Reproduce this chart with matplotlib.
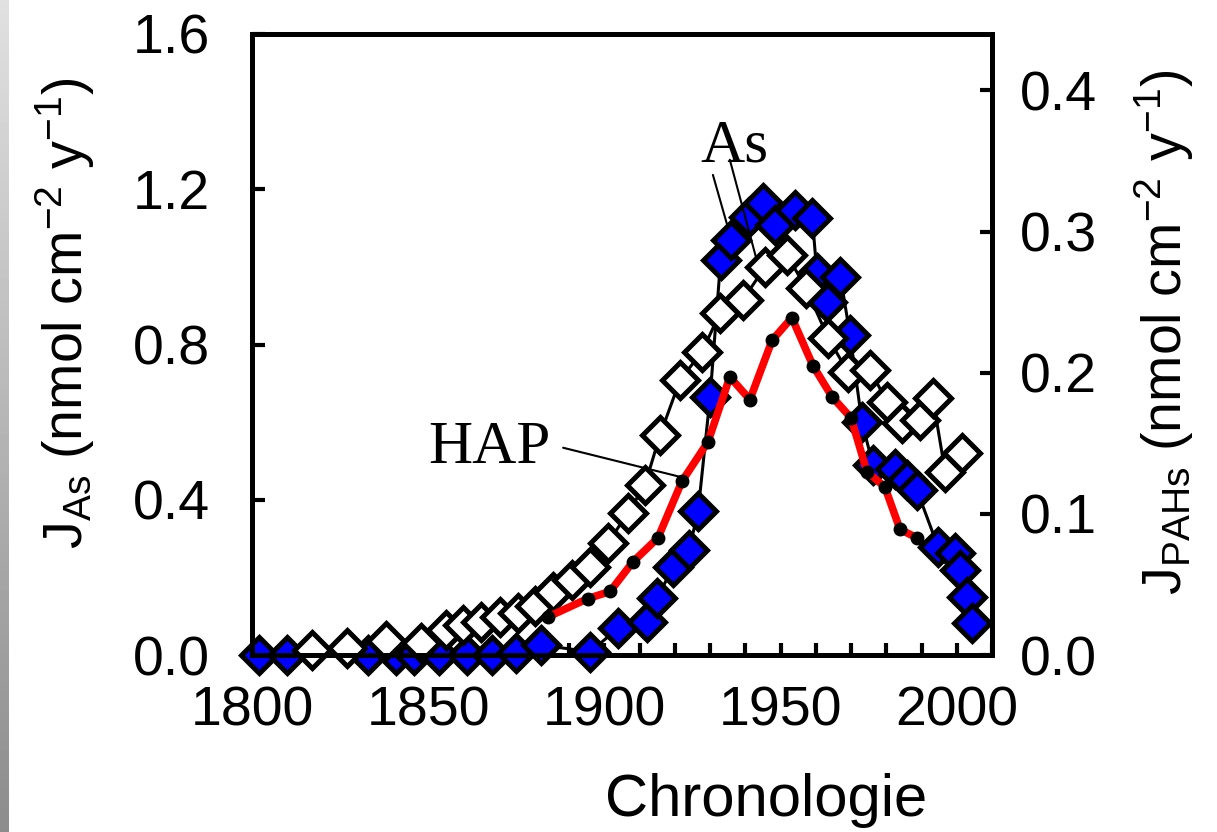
import numpy as np
import matplotlib
matplotlib.use("Agg")
import matplotlib.pyplot as plt
from matplotlib.ticker import MultipleLocator, FormatStrFormatter

plt.rcParams["font.family"] = ["Liberation Sans", "DejaVu Sans"]
plt.rcParams["mathtext.fontset"] = "custom"
plt.rcParams["mathtext.rm"] = "Liberation Sans"
plt.rcParams["mathtext.it"] = "Liberation Sans:italic"

# As flux, core 1 (filled diamonds)
years_as1 = [1802, 1810, 1833, 1841, 1846, 1853, 1861, 1868, 1875, 1882,
             1896, 1904, 1912, 1915, 1919.5, 1924, 1926.6, 1930, 1933, 1936,
             1941, 1945, 1948.4, 1954, 1959, 1960.3, 1963.2, 1967, 1969.7,
             1973.1, 1976.2, 1982.5, 1986, 1988.7, 1994.7, 1999.5, 2001, 2003, 2004.3]
flux_as1 = [0.0, 0.0, 0.0, 0.0, 0.0, 0.0, 0.0, 0.0, 0.005, 0.026,
            0.008, 0.07, 0.085, 0.147, 0.227, 0.27, 0.37, 0.665, 1.018, 1.07,
            1.129, 1.165, 1.108, 1.147, 1.126, 0.985, 0.91, 0.974, 0.825,
            0.60, 0.49, 0.48, 0.45, 0.425, 0.278, 0.263, 0.219, 0.149, 0.082]

# As flux, core 2 (open diamonds)
years_as2 = [1817, 1827, 1838, 1848, 1855, 1860, 1865, 1870.4, 1875.5, 1880.3,
             1885.4, 1890.8, 1896, 1901, 1906.7, 1911.5, 1915.8, 1921.5, 1927.7,
             1932.8, 1939.3, 1945.6, 1951.8, 1957.2, 1963.5, 1969.1, 1975.4,
             1980.2, 1984.5, 1989.6, 1993.2, 1996.7, 2001.5]
flux_as2 = [0.013, 0.018, 0.036, 0.031, 0.064, 0.077, 0.085, 0.098, 0.108, 0.126,
            0.162, 0.193, 0.227, 0.289, 0.366, 0.438, 0.567, 0.709, 0.781,
            0.881, 0.915, 1.0, 1.031, 0.946, 0.817, 0.729, 0.735,
            0.652, 0.598, 0.606, 0.662, 0.472, 0.521]

# PAH flux (right axis)
years_pah = [1884, 1895.3, 1901.6, 1908.1, 1915.2, 1922, 1929.4, 1935.6, 1941.3,
             1947.6, 1953.2, 1959.2, 1964.6, 1970, 1974.5, 1979.6, 1983.9, 1988.7]
flux_pah = [0.027, 0.040, 0.045, 0.066, 0.083, 0.123, 0.151, 0.197, 0.181,
            0.223, 0.239, 0.205, 0.183, 0.168, 0.130, 0.119, 0.089, 0.083]

fig = plt.figure(figsize=(12.17, 8.32), dpi=100)
ax = fig.add_axes([252 / 1217, 1 - 655 / 832, 740 / 1217, 621 / 832])
ax2 = ax.twinx()

# grey strip on the left edge
strip = fig.add_axes([0, 0, 9 / 1217, 1])
strip.imshow(np.linspace(0.88, 0.55, 256)[:, None], cmap="gray", vmin=0, vmax=1,
             aspect="auto", extent=[0, 1, 0, 1])
strip.axis("off")

ax.plot(years_as1, flux_as1, color="black", lw=2.2, marker="D", ms=18.5,
        mfc="#0000ff", mec="black", mew=3.6, clip_on=False, zorder=3)
ax.plot(years_as2, flux_as2, color="black", lw=2.2, marker="D", ms=18.5,
        mfc="white", mec="black", mew=3.6, clip_on=False, zorder=4)
ax2.plot(years_pah, flux_pah, color="#ff0000", lw=5.5, marker="o", ms=9,
         mfc="black", mec="black", zorder=5)

ax.set_xlim(1800, 2010)
ax.set_ylim(0, 1.6)
ax2.set_ylim(0, 0.44)

ax.xaxis.set_major_locator(MultipleLocator(50))
ax.xaxis.set_minor_locator(MultipleLocator(10))
ax.yaxis.set_major_locator(MultipleLocator(0.4))
ax.yaxis.set_major_formatter(FormatStrFormatter("%.1f"))
ax2.yaxis.set_major_locator(MultipleLocator(0.1))
ax2.yaxis.set_major_formatter(FormatStrFormatter("%.1f"))

for a in (ax, ax2):
    for s in a.spines.values():
        s.set_linewidth(3.6)
ax.tick_params(axis="x", which="both", direction="in", length=9, width=3,
               labelsize=40, pad=22, top=False)
ax.tick_params(axis="y", direction="in", length=9, width=3, labelsize=40, pad=30)
ax2.tick_params(axis="y", direction="in", length=9, width=3, labelsize=40, pad=20)

ax.set_xlabel("Chronologie", fontsize=43)
ax.xaxis.set_label_coords(0.695, -0.19)
ax.set_ylabel(r"J$_{\mathrm{As}}$ (nmol cm$^{\mathrm{-2}}$ y$^{\mathrm{-1}}$)", fontsize=40)
ax.yaxis.set_label_coords(-0.21, 0.55)
ax2.set_ylabel(r"J$_{\mathrm{PAHs}}$ (nmol cm$^{\mathrm{-2}}$ y$^{\mathrm{-1}}$)", fontsize=40)
ax2.yaxis.set_label_coords(1.19, 0.52)

# annotations
serif = ["Liberation Serif", "DejaVu Serif"]
ax.text(1936.8, 1.271, "As", family=serif, fontsize=44, ha="center", va="baseline")
line = dict(arrowstyle="-", lw=1.5, color="black", shrinkA=0, shrinkB=0)
ax.annotate("", xy=(1935.1, 1.100), xytext=(1930.8, 1.237), arrowprops=line)
ax.annotate("", xy=(1943.6, 1.005), xytext=(1935.6, 1.276), arrowprops=line)
ax.text(1849.9, 0.495, "HAP", family=serif, fontsize=44, ha="left", va="baseline")
ax.annotate("", xy=(1921.5, 0.459), xytext=(1888.3, 0.534), arrowprops=line)

fig.savefig("out.png", dpi=100)
